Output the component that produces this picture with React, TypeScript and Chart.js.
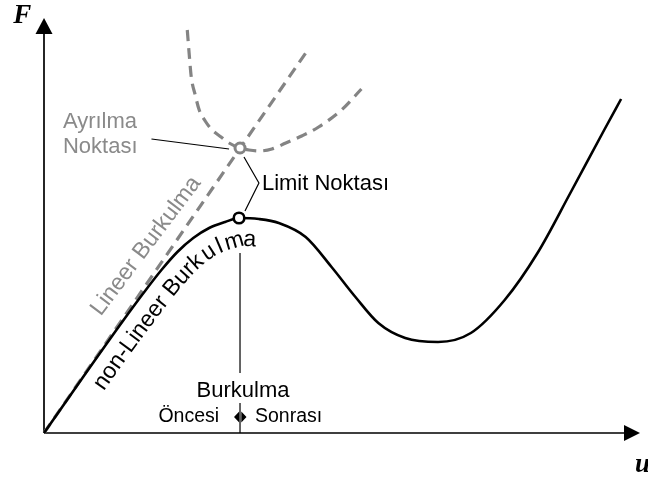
import { useEffect, useRef } from "react";
import { Chart, registerables } from "chart.js";

Chart.register(...registerables);

// Non-linear equilibrium path (displacement u, load F) with a limit point
const nonLinearU = [0, 40, 80, 100, 118, 134, 150, 166, 182, 196, 216, 236, 263, 289, 313, 336, 363, 396, 429, 463, 496, 529, 563, 580];
const nonLinearF = [0, 57, 113, 140, 163, 181, 195, 205, 211, 215, 214, 210, 196, 166, 136, 110, 95, 91, 100, 133, 180, 240, 303, 334];

// Linear (eigenvalue) buckling path
const linearU = [0, 263];
const linearF = [0, 380];

// Secondary path through the bifurcation point
const branchU = [144, 146, 148, 152, 156, 162, 169, 178, 186, 197, 206, 216, 229, 243, 259, 276, 299, 319];
const branchF = [403, 378, 356, 338, 323, 312, 303, 296, 290, 285, 283, 282, 284, 290, 297, 306, 323, 344];

// Marked points [u, F]
const limitPoint = [196, 215];
const bifurcationPoint = [197, 285];

// Callout lines
const bifurcationLeaderU = [108, 186];
const bifurcationLeaderF = [294, 284];
const limitLeaderU = [201, 216, 202];
const limitLeaderF = [276, 250, 222];
const dividerU = [197, 197];
const dividerUpperF = [180, 60];
const dividerLowerF = [30, 0];

const U_MAX = 599;
const F_MAX = 415;

const SANS = '"Liberation Sans", Arial, sans-serif';
const SERIF = '"Liberation Serif", "Times New Roman", serif';
const GRAY = "#848484";
const GRAY_TEXT = "#8a8a8a";

const pts = (us: number[], fs: number[]) => us.map((u, i) => ({ x: u, y: fs[i] }));

function drawAlongPath(
  ctx: CanvasRenderingContext2D,
  path: { x: number; y: number }[],
  text: string,
  start: number,
  spacing: number[]
) {
  const cum: number[] = [0];
  for (let i = 1; i < path.length; i++) {
    cum.push(cum[i - 1] + Math.hypot(path[i].x - path[i - 1].x, path[i].y - path[i - 1].y));
  }
  const at = (s: number) => {
    let i = 1;
    while (i < path.length - 1 && cum[i] < s) i++;
    const a = path[i - 1];
    const b = path[i];
    const seg = cum[i] - cum[i - 1] || 1;
    const t = (s - cum[i - 1]) / seg;
    return { x: a.x + (b.x - a.x) * t, y: a.y + (b.y - a.y) * t };
  };
  let s = start;
  ctx.textAlign = "center";
  ctx.textBaseline = "alphabetic";
  for (let k = 0; k < text.length; k++) {
    const ch = text[k];
    const w = ctx.measureText(ch).width;
    const mid = s + w / 2;
    const p = at(mid);
    const p0 = at(Math.max(0, mid - w / 2 - 2));
    const p1 = at(mid + w / 2 + 2);
    const ang = Math.atan2(p1.y - p0.y, p1.x - p0.x);
    ctx.save();
    ctx.translate(p.x, p.y);
    ctx.rotate(ang);
    ctx.fillText(ch, 0, 0);
    ctx.restore();
    s += w + (spacing[k] || 0);
  }
}

const diagramPlugin = {
  id: "diagram",
  beforeDatasetsDraw(chart: any) {
    const ctx: CanvasRenderingContext2D = chart.ctx;
    const X = (v: number) => chart.scales.x.getPixelForValue(v);
    const Y = (v: number) => chart.scales.y.getPixelForValue(v);
    const ox = X(0);
    const oy = Y(0);
    const tx = X(U_MAX);
    const ty = Y(F_MAX);
    ctx.save();
    ctx.strokeStyle = "#000";
    ctx.fillStyle = "#000";
    ctx.lineWidth = 1.7;
    ctx.beginPath();
    ctx.moveTo(ox, oy);
    ctx.lineTo(tx - 14, oy);
    ctx.moveTo(ox, oy);
    ctx.lineTo(ox, ty + 14);
    ctx.stroke();
    // arrow heads
    ctx.beginPath();
    ctx.moveTo(tx, oy);
    ctx.lineTo(tx - 16, oy - 8);
    ctx.lineTo(tx - 16, oy + 8);
    ctx.closePath();
    ctx.fill();
    ctx.beginPath();
    ctx.moveTo(ox, ty);
    ctx.lineTo(ox - 8.5, ty + 16);
    ctx.lineTo(ox + 8.5, ty + 16);
    ctx.closePath();
    ctx.fill();
    ctx.restore();
  },
  afterDatasetsDraw(chart: any) {
    const ctx: CanvasRenderingContext2D = chart.ctx;
    const X = (v: number) => chart.scales.x.getPixelForValue(v);
    const Y = (v: number) => chart.scales.y.getPixelForValue(v);
    ctx.save();

    // axis titles
    ctx.fillStyle = "#000";
    ctx.font = `bold italic 27px ${SERIF}`;
    ctx.textAlign = "left";
    ctx.textBaseline = "alphabetic";
    ctx.fillText("F", X(-31), Y(410));
    ctx.fillText("u", X(594), Y(-39));

    // bifurcation label
    ctx.fillStyle = GRAY_TEXT;
    ctx.font = `22px ${SANS}`;
    ctx.fillText("Ayrılma", X(19), Y(305));
    ctx.fillText("Noktası", X(19), Y(280));

    // limit point label
    ctx.fillStyle = "#000";
    ctx.font = `22px ${SANS}`;
    ctx.fillText("Limit Noktası", X(219), Y(243));

    // pre / post buckling
    ctx.font = `22px ${SANS}`;
    ctx.textAlign = "center";
    ctx.fillText("Burkulma", X(200), Y(36));
    ctx.font = `19.5px ${SANS}`;
    ctx.textAlign = "right";
    ctx.fillText("Öncesi", X(176), Y(11));
    ctx.textAlign = "left";
    ctx.fillText("Sonrası", X(212), Y(11));

    // small left/right arrow heads on the divider
    const cx = X(dividerU[0]);
    const cy = Y(16);
    ctx.beginPath();
    ctx.moveTo(cx - 6, cy);
    ctx.lineTo(cx - 0.8, cy - 5.5);
    ctx.lineTo(cx - 0.8, cy + 5.5);
    ctx.closePath();
    ctx.moveTo(cx + 6.5, cy);
    ctx.lineTo(cx + 1.3, cy - 5.5);
    ctx.lineTo(cx + 1.3, cy + 5.5);
    ctx.closePath();
    ctx.fill();

    // label along the linear path
    ctx.save();
    ctx.fillStyle = GRAY_TEXT;
    ctx.font = `23px ${SANS}`;
    ctx.textAlign = "center";
    ctx.textBaseline = "middle";
    ctx.translate(X(102.5), Y(187));
    ctx.rotate((-53 * Math.PI) / 180);
    ctx.fillText("Lineer Burkulma", 0, 0);
    ctx.restore();

    // label following the non-linear curve, set off below it
    const meta = chart.getDatasetMeta(4);
    const els: any[] = meta.data;
    const poly: { x: number; y: number }[] = [];
    for (let i = 0; i < els.length - 1; i++) {
      const a = els[i];
      const b = els[i + 1];
      const c1x = a.cp2x ?? a.x;
      const c1y = a.cp2y ?? a.y;
      const c2x = b.cp1x ?? b.x;
      const c2y = b.cp1y ?? b.y;
      for (let k = 0; k < 16; k++) {
        const t = k / 16;
        const m = 1 - t;
        poly.push({
          x: m * m * m * a.x + 3 * m * m * t * c1x + 3 * m * t * t * c2x + t * t * t * b.x,
          y: m * m * m * a.y + 3 * m * m * t * c1y + 3 * m * t * t * c2y + t * t * t * b.y,
        });
      }
    }
    poly.push({ x: els[els.length - 1].x, y: els[els.length - 1].y });
    const x0 = X(60);
    const x1 = X(limitPoint[0]);
    const shifted = poly.map((p, i) => {
      const a = poly[Math.max(0, i - 1)];
      const b = poly[Math.min(poly.length - 1, i + 1)];
      const dx = b.x - a.x;
      const dy = b.y - a.y;
      const len = Math.hypot(dx, dy) || 1;
      const f = Math.max(0, Math.min(1, (p.x - x0) / (x1 - x0)));
      const off = 25 + 3 * f;
      return { x: p.x + (-dy / len) * off, y: p.y + (dx / len) * off };
    });
    let start = 0;
    for (let i = 1; i < shifted.length; i++) {
      const a = shifted[i - 1];
      const b = shifted[i];
      const d = Math.hypot(b.x - a.x, b.y - a.y);
      if (b.x >= x0) {
        start += d * Math.max(0, Math.min(1, (x0 - a.x) / ((b.x - a.x) || 1)));
        break;
      }
      start += d;
    }
    ctx.fillStyle = "#000";
    ctx.font = `23px ${SANS}`;
    const label = "non-Lineer Burkulma";
    const spacing = label.split("").map((_, i) => (i >= 14 ? 2.5 : 0));
    drawAlongPath(ctx, shifted, label, start, spacing);

    ctx.restore();
  },
};

export default function App() {
  const ref = useRef<HTMLCanvasElement | null>(null);

  useEffect(() => {
    if (!ref.current) return;
    const line = (data: any, color: string, width: number, dash: number[] = []) => ({
      data,
      showLine: true,
      borderColor: color,
      borderWidth: width,
      borderDash: dash,
      pointRadius: 0,
      fill: false,
      clip: false as any,
    });
    const chart = new Chart(ref.current, {
      type: "scatter",
      data: {
        datasets: [
          {
            data: [{ x: limitPoint[0], y: limitPoint[1] }],
            pointRadius: 5.3,
            pointBorderWidth: 2.6,
            pointBorderColor: "#000",
            pointBackgroundColor: "#fff",
            clip: false as any,
          },
          {
            data: [{ x: bifurcationPoint[0], y: bifurcationPoint[1] }],
            pointRadius: 5,
            pointBorderWidth: 3,
            pointBorderColor: GRAY,
            pointBackgroundColor: "#fff",
            clip: false as any,
          },
          line(pts(bifurcationLeaderU, bifurcationLeaderF), "#000", 1.2),
          line(pts(limitLeaderU, limitLeaderF), "#000", 1.2),
          { ...line(pts(nonLinearU, nonLinearF), "#000", 2.6), cubicInterpolationMode: "monotone" as const },
          line(pts(dividerU, dividerUpperF), "#000", 1.2),
          line(pts(dividerU, dividerLowerF), "#000", 1.2),
          line(pts(linearU, linearF), GRAY, 3.2, [11, 7]),
          { ...line(pts(branchU, branchF), GRAY, 3.2, [11, 7]), cubicInterpolationMode: "monotone" as const },
        ],
      },
      options: {
        animation: false,
        responsive: false,
        devicePixelRatio: 1,
        layout: { padding: { left: 44, top: 18, right: 5, bottom: 48 } },
        scales: {
          x: { type: "linear", min: 0, max: U_MAX, display: false },
          y: { type: "linear", min: 0, max: F_MAX, display: false },
        },
        plugins: { legend: { display: false }, tooltip: { enabled: false } },
        events: [],
      },
      plugins: [diagramPlugin],
    });
    return () => chart.destroy();
  }, []);

  return (
    <div style={{ position: "fixed", left: 0, top: 0, width: 648, height: 481, background: "#fff" }}>
      <canvas ref={ref} width={648} height={481} style={{ display: "block" }} />
    </div>
  );
}
